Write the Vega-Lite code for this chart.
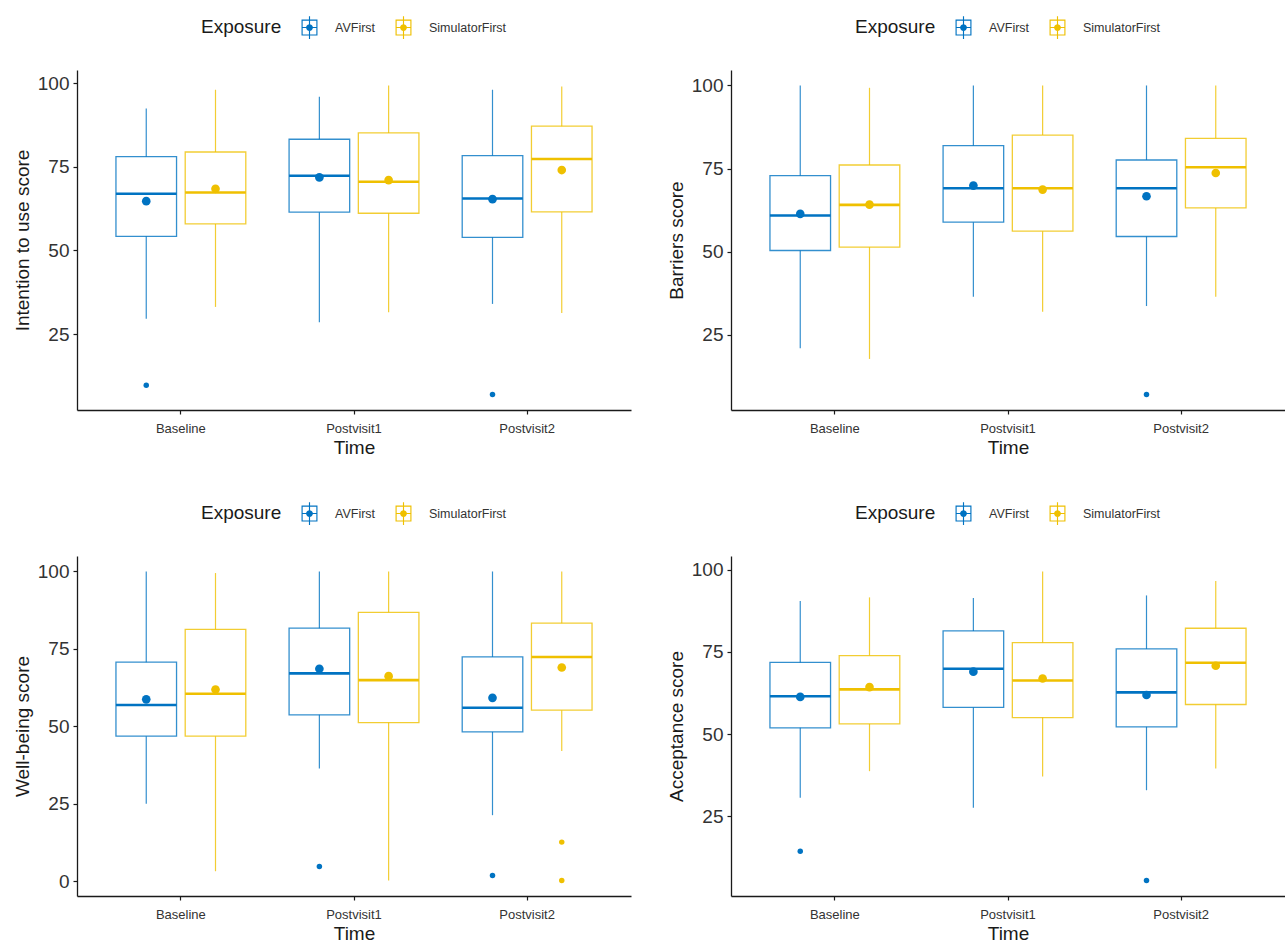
{
  "$schema": "https://vega.github.io/schema/vega-lite/v6.json",
  "padding": {"left": 13, "top": 16, "right": 0, "bottom": 0},
  "background": "white",
  "config": {
    "view": {"stroke": null},
    "font": "Liberation Sans",
    "axis": {
      "grid": false,
      "domainColor": "#1a1a1a",
      "domainWidth": 1.3,
      "tickColor": "#1a1a1a",
      "tickWidth": 1.2,
      "tickSize": 4,
      "labelColor": "#333333",
      "titleColor": "#1a1a1a",
      "titleFontWeight": "normal",
      "titleFontSize": 19
    },
    "axisY": {"labelFontSize": 19, "labelPadding": 4, "titlePadding": 5},
    "axisX": {"labelFontSize": 13, "labelAngle": 0, "labelPadding": 8, "titlePadding": 3},
    "legend": {
      "orient": "top",
      "direction": "horizontal",
      "titleOrient": "left",
      "titleAnchor": "middle",
      "titleBaseline": "middle",
      "titleFontSize": 19,
      "titleFontWeight": "normal",
      "titleColor": "#1a1a1a",
      "titlePadding": 16,
      "labelFontSize": 12.5,
      "labelColor": "#333333",
      "labelOffset": 14,
      "columnPadding": 16,
      "symbolType": "M-0.7,-0.7H0.7V0.7H-0.7Z M-0.6,-0.6V0.6H0.6V-0.6Z M-0.05,-1H0.05V1H-0.05Z M-0.6,-0.05H0.6V0.05H-0.6Z M-0.3,0A0.3,0.3,0,1,1,0.3,0A0.3,0.3,0,1,1,-0.3,0Z",
      "symbolSize": 520,
      "symbolStrokeWidth": 0,
      "offset": 31,
      "layout": {"top": {"anchor": "middle"}}
    }
  },
  "datasets": {
    "intention": [
      {"Time": "Baseline", "Exposure": "AVFirst", "lo": 29.6, "q1": 54.2, "med": 66.9, "q3": 78.0, "hi": 92.4, "mean": 64.7},
      {"Time": "Baseline", "Exposure": "SimulatorFirst", "lo": 33.1, "q1": 57.9, "med": 67.3, "q3": 79.4, "hi": 98.0, "mean": 68.4},
      {"Time": "Postvisit1", "Exposure": "AVFirst", "lo": 28.5, "q1": 61.4, "med": 72.3, "q3": 83.2, "hi": 95.9, "mean": 71.8},
      {"Time": "Postvisit1", "Exposure": "SimulatorFirst", "lo": 31.5, "q1": 61.1, "med": 70.5, "q3": 85.1, "hi": 99.3, "mean": 71.0},
      {"Time": "Postvisit2", "Exposure": "AVFirst", "lo": 34.0, "q1": 53.9, "med": 65.5, "q3": 78.3, "hi": 98.0, "mean": 65.3},
      {"Time": "Postvisit2", "Exposure": "SimulatorFirst", "lo": 31.3, "q1": 61.5, "med": 77.3, "q3": 87.1, "hi": 99.0, "mean": 74.0}
    ],
    "intention_out": [
      {"Time": "Baseline", "Exposure": "AVFirst", "score": 9.7},
      {"Time": "Postvisit2", "Exposure": "AVFirst", "score": 6.9}
    ],
    "barriers": [
      {"Time": "Baseline", "Exposure": "AVFirst", "lo": 21.0, "q1": 50.4, "med": 60.9, "q3": 72.9, "hi": 100, "mean": 61.4},
      {"Time": "Baseline", "Exposure": "SimulatorFirst", "lo": 17.8, "q1": 51.4, "med": 64.1, "q3": 76.1, "hi": 99.3, "mean": 64.2},
      {"Time": "Postvisit1", "Exposure": "AVFirst", "lo": 36.5, "q1": 58.9, "med": 69.1, "q3": 81.9, "hi": 100, "mean": 69.9},
      {"Time": "Postvisit1", "Exposure": "SimulatorFirst", "lo": 32.0, "q1": 56.2, "med": 69.1, "q3": 85.1, "hi": 100, "mean": 68.7},
      {"Time": "Postvisit2", "Exposure": "AVFirst", "lo": 33.7, "q1": 54.6, "med": 69.1, "q3": 77.6, "hi": 100, "mean": 66.7},
      {"Time": "Postvisit2", "Exposure": "SimulatorFirst", "lo": 36.5, "q1": 63.2, "med": 75.4, "q3": 84.1, "hi": 100, "mean": 73.7}
    ],
    "barriers_out": [
      {"Time": "Postvisit2", "Exposure": "AVFirst", "score": 7.1}
    ],
    "wellbeing": [
      {"Time": "Baseline", "Exposure": "AVFirst", "lo": 25.0, "q1": 46.8, "med": 56.9, "q3": 70.7, "hi": 100, "mean": 58.7},
      {"Time": "Baseline", "Exposure": "SimulatorFirst", "lo": 3.2, "q1": 46.8, "med": 60.5, "q3": 81.3, "hi": 99.5, "mean": 61.9},
      {"Time": "Postvisit1", "Exposure": "AVFirst", "lo": 36.4, "q1": 53.7, "med": 67.1, "q3": 81.7, "hi": 100, "mean": 68.6},
      {"Time": "Postvisit1", "Exposure": "SimulatorFirst", "lo": 0.2, "q1": 51.2, "med": 64.9, "q3": 86.8, "hi": 100, "mean": 66.2},
      {"Time": "Postvisit2", "Exposure": "AVFirst", "lo": 21.3, "q1": 48.2, "med": 56.0, "q3": 72.4, "hi": 100, "mean": 59.2},
      {"Time": "Postvisit2", "Exposure": "SimulatorFirst", "lo": 42.0, "q1": 55.2, "med": 72.4, "q3": 83.3, "hi": 100, "mean": 69.0}
    ],
    "wellbeing_out": [
      {"Time": "Postvisit1", "Exposure": "AVFirst", "score": 4.7},
      {"Time": "Postvisit2", "Exposure": "AVFirst", "score": 1.8},
      {"Time": "Postvisit2", "Exposure": "SimulatorFirst", "score": 12.6},
      {"Time": "Postvisit2", "Exposure": "SimulatorFirst", "score": 0.2}
    ],
    "acceptance": [
      {"Time": "Baseline", "Exposure": "AVFirst", "lo": 30.6, "q1": 51.9, "med": 61.5, "q3": 71.8, "hi": 90.5, "mean": 61.3},
      {"Time": "Baseline", "Exposure": "SimulatorFirst", "lo": 38.7, "q1": 53.1, "med": 63.6, "q3": 73.9, "hi": 91.6, "mean": 64.3},
      {"Time": "Postvisit1", "Exposure": "AVFirst", "lo": 27.6, "q1": 58.1, "med": 69.9, "q3": 81.4, "hi": 91.4, "mean": 69.0},
      {"Time": "Postvisit1", "Exposure": "SimulatorFirst", "lo": 37.1, "q1": 55.0, "med": 66.3, "q3": 77.8, "hi": 99.5, "mean": 66.9},
      {"Time": "Postvisit2", "Exposure": "AVFirst", "lo": 32.9, "q1": 52.2, "med": 62.7, "q3": 75.9, "hi": 92.2, "mean": 61.9},
      {"Time": "Postvisit2", "Exposure": "SimulatorFirst", "lo": 39.5, "q1": 59.0, "med": 71.7, "q3": 82.2, "hi": 96.6, "mean": 70.8}
    ],
    "acceptance_out": [
      {"Time": "Baseline", "Exposure": "AVFirst", "score": 14.3},
      {"Time": "Postvisit2", "Exposure": "AVFirst", "score": 5.4}
    ]
  },
  "columns": 2,
  "spacing": {"row": 45, "column": 36},
  "resolve": {
    "scale": {"color": "independent", "y": "independent", "x": "independent", "xOffset": "independent"},
    "legend": {"color": "independent"}
  },
  "concat": [
    {
      "name": "p1",
      "width": 554,
      "height": 340,
      "data": {"name": "intention"},
      "encoding": {
        "x": {"field": "Time", "type": "nominal", "title": "Time", "scale": {"paddingInner": 0, "paddingOuter": 0.1}},
        "xOffset": {"field": "Exposure", "type": "nominal", "scale": {"domain": ["AVFirst", "SimulatorFirst"], "paddingInner": 0.125, "paddingOuter": 0.3125}},
        "color": {
          "field": "Exposure", "type": "nominal",
          "scale": {"domain": ["AVFirst", "SimulatorFirst"], "range": ["#0073C2", "#EFC000"]},
          "legend": {"title": "Exposure", "encode": {"symbols": {"update": {"fill": {"scale": "p1_color", "field": "value"}, "stroke": {"value": "transparent"}, "opacity": {"value": 1}}}}}
        }
      },
      "layer": [
        {"mark": {"type": "rule", "strokeWidth": 1.2, "strokeOpacity": 0.8}, "encoding": {"y": {"field": "lo", "type": "quantitative", "title": "Intention to use score", "scale": {"domain": [2.3, 103.9], "nice": false, "zero": false}, "axis": {"values": [25, 50, 75, 100]}}, "y2": {"field": "q1"}}},
        {"mark": {"type": "rule", "strokeWidth": 1.2, "strokeOpacity": 0.8}, "encoding": {"y": {"field": "q3", "type": "quantitative", "title": "Intention to use score", "scale": {"domain": [2.3, 103.9], "nice": false, "zero": false}}, "y2": {"field": "hi"}}},
        {"mark": {"type": "bar", "filled": false, "strokeWidth": 1.3, "strokeOpacity": 0.8}, "encoding": {"y": {"field": "q1", "type": "quantitative", "title": "Intention to use score", "scale": {"domain": [2.3, 103.9], "nice": false, "zero": false}}, "y2": {"field": "q3"}}},
        {"mark": {"type": "bar", "filled": false, "strokeWidth": 2.6}, "encoding": {"y": {"field": "med", "type": "quantitative", "title": "Intention to use score", "scale": {"domain": [2.3, 103.9], "nice": false, "zero": false}}, "y2": {"field": "med"}}},
        {"mark": {"type": "point", "filled": true, "size": 75, "opacity": 1}, "encoding": {"y": {"field": "mean", "type": "quantitative", "title": "Intention to use score", "scale": {"domain": [2.3, 103.9], "nice": false, "zero": false}}}},
        {"data": {"name": "intention_out"}, "mark": {"type": "point", "filled": true, "size": 30, "opacity": 1}, "encoding": {"y": {"field": "score", "type": "quantitative", "title": "Intention to use score", "scale": {"domain": [2.3, 103.9], "nice": false, "zero": false}}}}
      ]
    },
    {
      "name": "p2",
      "width": 554,
      "height": 340,
      "data": {"name": "barriers"},
      "encoding": {
        "x": {"field": "Time", "type": "nominal", "title": "Time", "scale": {"paddingInner": 0, "paddingOuter": 0.1}},
        "xOffset": {"field": "Exposure", "type": "nominal", "scale": {"domain": ["AVFirst", "SimulatorFirst"], "paddingInner": 0.125, "paddingOuter": 0.3125}},
        "color": {
          "field": "Exposure", "type": "nominal",
          "scale": {"domain": ["AVFirst", "SimulatorFirst"], "range": ["#0073C2", "#EFC000"]},
          "legend": {"title": "Exposure", "encode": {"symbols": {"update": {"fill": {"scale": "p2_color", "field": "value"}, "stroke": {"value": "transparent"}, "opacity": {"value": 1}}}}}
        }
      },
      "layer": [
        {"mark": {"type": "rule", "strokeWidth": 1.2, "strokeOpacity": 0.8}, "encoding": {"y": {"field": "lo", "type": "quantitative", "title": "Barriers score", "scale": {"domain": [2.45, 104.65], "nice": false, "zero": false}, "axis": {"values": [25, 50, 75, 100]}}, "y2": {"field": "q1"}}},
        {"mark": {"type": "rule", "strokeWidth": 1.2, "strokeOpacity": 0.8}, "encoding": {"y": {"field": "q3", "type": "quantitative", "title": "Barriers score", "scale": {"domain": [2.45, 104.65], "nice": false, "zero": false}}, "y2": {"field": "hi"}}},
        {"mark": {"type": "bar", "filled": false, "strokeWidth": 1.3, "strokeOpacity": 0.8}, "encoding": {"y": {"field": "q1", "type": "quantitative", "title": "Barriers score", "scale": {"domain": [2.45, 104.65], "nice": false, "zero": false}}, "y2": {"field": "q3"}}},
        {"mark": {"type": "bar", "filled": false, "strokeWidth": 2.6}, "encoding": {"y": {"field": "med", "type": "quantitative", "title": "Barriers score", "scale": {"domain": [2.45, 104.65], "nice": false, "zero": false}}, "y2": {"field": "med"}}},
        {"mark": {"type": "point", "filled": true, "size": 75, "opacity": 1}, "encoding": {"y": {"field": "mean", "type": "quantitative", "title": "Barriers score", "scale": {"domain": [2.45, 104.65], "nice": false, "zero": false}}}},
        {"data": {"name": "barriers_out"}, "mark": {"type": "point", "filled": true, "size": 30, "opacity": 1}, "encoding": {"y": {"field": "score", "type": "quantitative", "title": "Barriers score", "scale": {"domain": [2.45, 104.65], "nice": false, "zero": false}}}}
      ]
    },
    {
      "name": "p3",
      "width": 554,
      "height": 340,
      "data": {"name": "wellbeing"},
      "encoding": {
        "x": {"field": "Time", "type": "nominal", "title": "Time", "scale": {"paddingInner": 0, "paddingOuter": 0.1}},
        "xOffset": {"field": "Exposure", "type": "nominal", "scale": {"domain": ["AVFirst", "SimulatorFirst"], "paddingInner": 0.125, "paddingOuter": 0.3125}},
        "color": {
          "field": "Exposure", "type": "nominal",
          "scale": {"domain": ["AVFirst", "SimulatorFirst"], "range": ["#0073C2", "#EFC000"]},
          "legend": {"title": "Exposure", "encode": {"symbols": {"update": {"fill": {"scale": "p3_color", "field": "value"}, "stroke": {"value": "transparent"}, "opacity": {"value": 1}}}}}
        }
      },
      "layer": [
        {"mark": {"type": "rule", "strokeWidth": 1.2, "strokeOpacity": 0.8}, "encoding": {"y": {"field": "lo", "type": "quantitative", "title": "Well-being score", "scale": {"domain": [-4.8, 105], "nice": false, "zero": false}, "axis": {"values": [0, 25, 50, 75, 100]}}, "y2": {"field": "q1"}}},
        {"mark": {"type": "rule", "strokeWidth": 1.2, "strokeOpacity": 0.8}, "encoding": {"y": {"field": "q3", "type": "quantitative", "title": "Well-being score", "scale": {"domain": [-4.8, 105], "nice": false, "zero": false}}, "y2": {"field": "hi"}}},
        {"mark": {"type": "bar", "filled": false, "strokeWidth": 1.3, "strokeOpacity": 0.8}, "encoding": {"y": {"field": "q1", "type": "quantitative", "title": "Well-being score", "scale": {"domain": [-4.8, 105], "nice": false, "zero": false}}, "y2": {"field": "q3"}}},
        {"mark": {"type": "bar", "filled": false, "strokeWidth": 2.6}, "encoding": {"y": {"field": "med", "type": "quantitative", "title": "Well-being score", "scale": {"domain": [-4.8, 105], "nice": false, "zero": false}}, "y2": {"field": "med"}}},
        {"mark": {"type": "point", "filled": true, "size": 75, "opacity": 1}, "encoding": {"y": {"field": "mean", "type": "quantitative", "title": "Well-being score", "scale": {"domain": [-4.8, 105], "nice": false, "zero": false}}}},
        {"data": {"name": "wellbeing_out"}, "mark": {"type": "point", "filled": true, "size": 30, "opacity": 1}, "encoding": {"y": {"field": "score", "type": "quantitative", "title": "Well-being score", "scale": {"domain": [-4.8, 105], "nice": false, "zero": false}}}}
      ]
    },
    {
      "name": "p4",
      "width": 554,
      "height": 340,
      "data": {"name": "acceptance"},
      "encoding": {
        "x": {"field": "Time", "type": "nominal", "title": "Time", "scale": {"paddingInner": 0, "paddingOuter": 0.1}},
        "xOffset": {"field": "Exposure", "type": "nominal", "scale": {"domain": ["AVFirst", "SimulatorFirst"], "paddingInner": 0.125, "paddingOuter": 0.3125}},
        "color": {
          "field": "Exposure", "type": "nominal",
          "scale": {"domain": ["AVFirst", "SimulatorFirst"], "range": ["#0073C2", "#EFC000"]},
          "legend": {"title": "Exposure", "encode": {"symbols": {"update": {"fill": {"scale": "p4_color", "field": "value"}, "stroke": {"value": "transparent"}, "opacity": {"value": 1}}}}}
        }
      },
      "layer": [
        {"mark": {"type": "rule", "strokeWidth": 1.2, "strokeOpacity": 0.8}, "encoding": {"y": {"field": "lo", "type": "quantitative", "title": "Acceptance score", "scale": {"domain": [0.7, 104.2], "nice": false, "zero": false}, "axis": {"values": [25, 50, 75, 100]}}, "y2": {"field": "q1"}}},
        {"mark": {"type": "rule", "strokeWidth": 1.2, "strokeOpacity": 0.8}, "encoding": {"y": {"field": "q3", "type": "quantitative", "title": "Acceptance score", "scale": {"domain": [0.7, 104.2], "nice": false, "zero": false}}, "y2": {"field": "hi"}}},
        {"mark": {"type": "bar", "filled": false, "strokeWidth": 1.3, "strokeOpacity": 0.8}, "encoding": {"y": {"field": "q1", "type": "quantitative", "title": "Acceptance score", "scale": {"domain": [0.7, 104.2], "nice": false, "zero": false}}, "y2": {"field": "q3"}}},
        {"mark": {"type": "bar", "filled": false, "strokeWidth": 2.6}, "encoding": {"y": {"field": "med", "type": "quantitative", "title": "Acceptance score", "scale": {"domain": [0.7, 104.2], "nice": false, "zero": false}}, "y2": {"field": "med"}}},
        {"mark": {"type": "point", "filled": true, "size": 75, "opacity": 1}, "encoding": {"y": {"field": "mean", "type": "quantitative", "title": "Acceptance score", "scale": {"domain": [0.7, 104.2], "nice": false, "zero": false}}}},
        {"data": {"name": "acceptance_out"}, "mark": {"type": "point", "filled": true, "size": 30, "opacity": 1}, "encoding": {"y": {"field": "score", "type": "quantitative", "title": "Acceptance score", "scale": {"domain": [0.7, 104.2], "nice": false, "zero": false}}}}
      ]
    }
  ]
}
